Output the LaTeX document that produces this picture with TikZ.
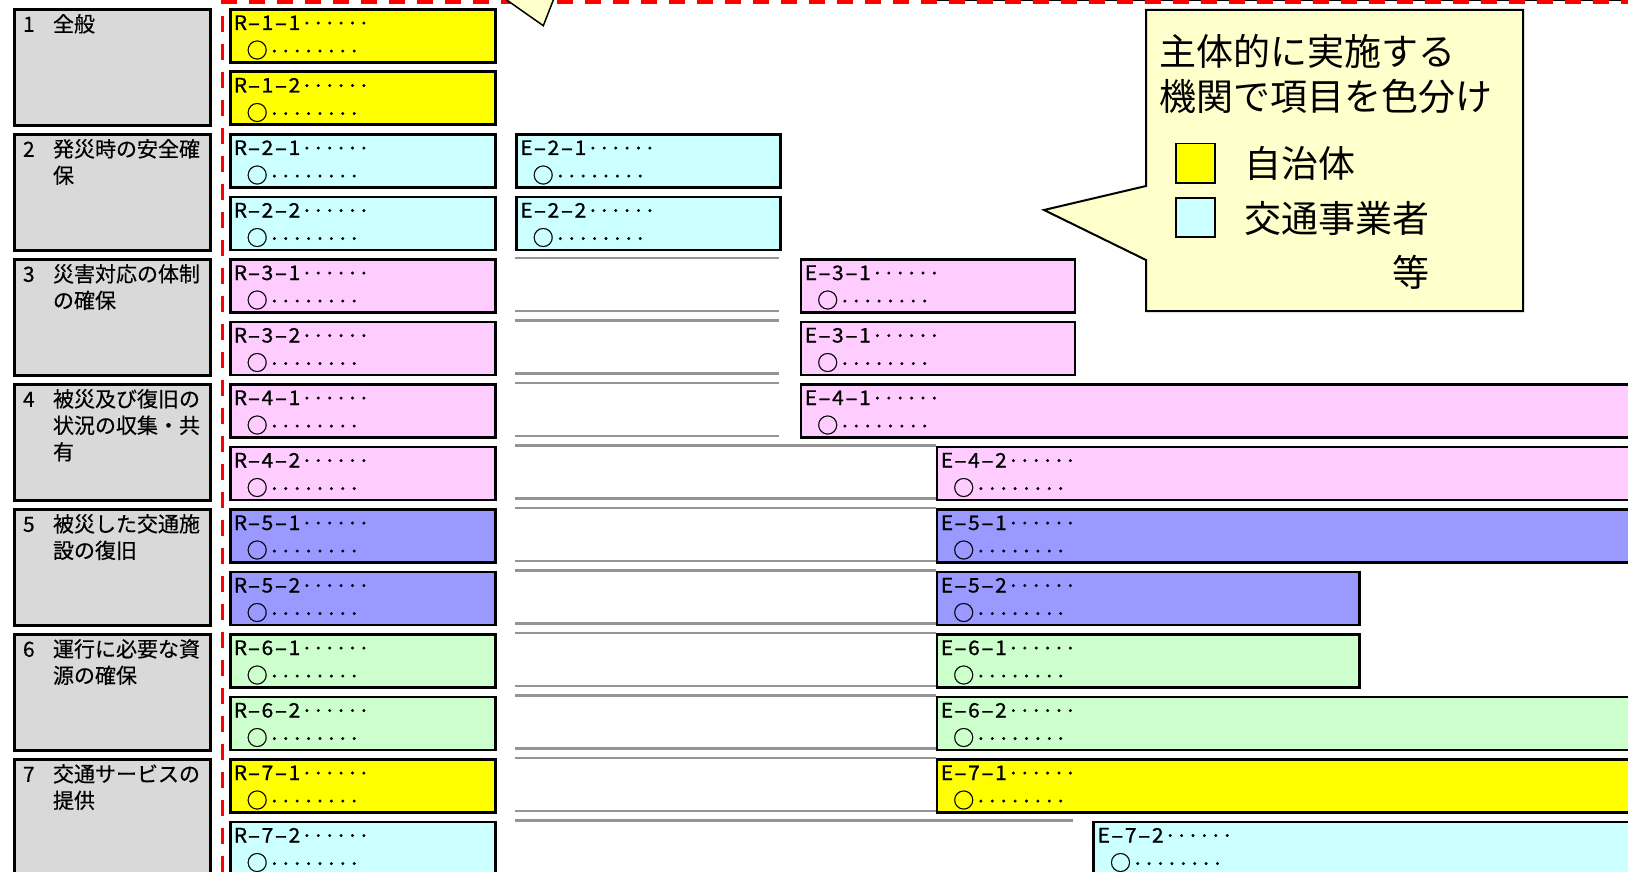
\documentclass[tikz,border=0pt]{standalone}
\usepackage{fontspec}
\usepackage{graphicx}
\setmainfont{Noto Sans CJK JP}
\newfontfamily\boxfont{Noto Sans CJK JP}[FakeBold=0.9]
\newfontfamily\catfont{Noto Sans CJK JP}[FakeBold=0.4]
\newfontfamily\dotfont{Noto Sans CJK JP}[FakeBold=5]
\usetikzlibrary{calc}
\definecolor{cyel}{HTML}{FFFF00}
\definecolor{ccyan}{HTML}{CCFFFF}
\definecolor{cpink}{HTML}{FFCCFF}
\definecolor{cblue}{HTML}{9999FF}
\definecolor{cgreen}{HTML}{CCFFCC}
\definecolor{cgray}{HTML}{D9D9D9}
\definecolor{ccall}{HTML}{FFFFCC}
\definecolor{cred}{HTML}{FF0000}
\newcommand\hcell[1]{\makebox[13.5pt][c]{\scalebox{1.05}[1]{#1}}}
\newcommand\hyph{\makebox[13.5pt][c]{\scalebox{1.9}[1]{-}}}
\newcommand\dotc{\makebox[11.4pt][c]{\raisebox{2.6pt}{\dotfont\fontsize{11.4}{11.4}\selectfont ・}}}
\newcommand\codeline[3]{\hcell{#1}\hyph\hcell{#2}\hyph\hcell{#3}\dotc\dotc\dotc\dotc\dotc\dotc}
\newcommand\itemline{\hspace*{12pt}\makebox[23pt][c]{\scalebox{1.05}{○}}\dotc\dotc\dotc\dotc\dotc\dotc\dotc\dotc}
\tikzset{
 cbox/.style={draw=black, line width=2.8pt, minimum height=53pt, inner sep=0pt, anchor=north west, rectangle},
 gbox/.style={draw=black, line width=2.8pt, fill=cgray, minimum width=196pt, minimum height=116pt, inner sep=0pt, anchor=north west, rectangle},
 lbl/.style={font=\boxfont\fontsize{20}{20}\selectfont, inner sep=0pt, anchor=base west},
 glbl/.style={font=\catfont\fontsize{21}{21}\selectfont, inner sep=0pt, anchor=base west},
 big/.style={font=\fontsize{37}{37}\selectfont, inner sep=0pt, anchor=base west},
 sepline/.style={draw=black!42, line width=2.2pt},
 reddash/.style={draw=cred, line width=3.3pt, dash pattern=on 16pt off 12pt},
}
\begin{document}
\begin{tikzpicture}[x=1pt,y=-1pt]
\useasboundingbox (0,0) rectangle (1628,872);
\clip (0,0) rectangle (1628,872);
\fill[white] (0,0) rectangle (1628,872);

% left category boxes
\foreach \k in {1,...,7}{
  \node[gbox] (g\k) at (13.3,{8+125*(\k-1)}) {};
}
\node[glbl] (g1n) at ($(g1.north west)+(9.5,23.8)$) {1};
\node[glbl] (g1a) at ($(g1.north west)+(39.5,23.8)$) {全般};
\node[glbl] (g2n) at ($(g2.north west)+(9.5,23.8)$) {2};
\node[glbl] (g2a) at ($(g2.north west)+(39.5,23.8)$) {発災時の安全確};
\node[glbl] (g2b) at ($(g2.north west)+(39.5,50.3)$) {保};
\node[glbl] (g3n) at ($(g3.north west)+(9.5,23.8)$) {3};
\node[glbl] (g3a) at ($(g3.north west)+(39.5,23.8)$) {災害対応の体制};
\node[glbl] (g3b) at ($(g3.north west)+(39.5,50.3)$) {の確保};
\node[glbl] (g4n) at ($(g4.north west)+(9.5,23.8)$) {4};
\node[glbl] (g4a) at ($(g4.north west)+(39.5,23.8)$) {被災及び復旧の};
\node[glbl] (g4b) at ($(g4.north west)+(39.5,50.3)$) {状況の収集・共};
\node[glbl] (g4c) at ($(g4.north west)+(39.5,76.8)$) {有};
\node[glbl] (g5n) at ($(g5.north west)+(9.5,23.8)$) {5};
\node[glbl] (g5a) at ($(g5.north west)+(39.5,23.8)$) {被災した交通施};
\node[glbl] (g5b) at ($(g5.north west)+(39.5,50.3)$) {設の復旧};
\node[glbl] (g6n) at ($(g6.north west)+(9.5,23.8)$) {6};
\node[glbl] (g6a) at ($(g6.north west)+(39.5,23.8)$) {運行に必要な資};
\node[glbl] (g6b) at ($(g6.north west)+(39.5,50.3)$) {源の確保};
\node[glbl] (g7n) at ($(g7.north west)+(9.5,23.8)$) {7};
\node[glbl] (g7a) at ($(g7.north west)+(39.5,23.8)$) {交通サービスの};
\node[glbl] (g7b) at ($(g7.north west)+(39.5,50.3)$) {提供};

% grey separator lines of empty cells
\foreach \s/\xe in {5/779,6/779,7/779,8/935.5,9/935.5,10/935.5,11/935.5,12/935.5,13/935.5}{
  \draw[sepline] (515,{8+62.5*(\s-1)}) -- (\xe,{8+62.5*(\s-1)});
  \draw[sepline] (515,{61+62.5*(\s-1)}) -- (\xe,{61+62.5*(\s-1)});
}
\draw[sepline] (515,820.5) -- (1073,820.5);

% item boxes
\foreach \nm/\s/\x/\w/\c/\l/\k/\j in {
  r11/1/229/265/cyel/R/1/1, r12/2/229/265/cyel/R/1/2,
  r21/3/229/265/ccyan/R/2/1, r22/4/229/265/ccyan/R/2/2,
  r31/5/229/265/cpink/R/3/1, r32/6/229/265/cpink/R/3/2,
  r41/7/229/265/cpink/R/4/1, r42/8/229/265/cpink/R/4/2,
  r51/9/229/265/cblue/R/5/1, r52/10/229/265/cblue/R/5/2,
  r61/11/229/265/cgreen/R/6/1, r62/12/229/265/cgreen/R/6/2,
  r71/13/229/265/cyel/R/7/1, r72/14/229/265/ccyan/R/7/2,
  e21/3/515/264/ccyan/E/2/1, e22/4/515/264/ccyan/E/2/2,
  e31/5/799.5/274/cpink/E/3/1, e32/6/799.5/274/cpink/E/3/1,
  e41/7/799.5/860/cpink/E/4/1, e42/8/935.5/720/cpink/E/4/2,
  e51/9/935.5/720/cblue/E/5/1, e52/10/935.5/422.5/cblue/E/5/2,
  e61/11/935.5/422.5/cgreen/E/6/1, e62/12/935.5/720/cgreen/E/6/2,
  e71/13/935.5/720/cyel/E/7/1, e72/14/1092.3/600/ccyan/E/7/2}{
  \node[cbox, fill=\c, minimum width=\w pt] (\nm) at (\x,{8+62.5*(\s-1)}) {};
  \node[lbl] (\nm t1) at ($(\nm.north west)+(4.5,22)$) {\codeline{\l}{\k}{\j}};
  \node[lbl] (\nm t2) at ($(\nm.north west)+(4.5,50)$) {\itemline};
}

% dashed red frame
\draw[black, line width=1.5pt] (935,0.6) -- (1640,0.6);
\draw[reddash] (222.5,900) -- (222.5,2) -- (1660,2);

% pointer of a callout above the picture
\coordinate (ptip) at (543.3,25.7);
\filldraw[fill=ccall, draw=black, line width=1.5pt, line join=miter] (499.6,-5) -- (ptip) -- (555.3,-5);

% callout legend
\coordinate (ctip) at (1044,210);
\filldraw[fill=ccall, draw=black, line width=2pt, line join=miter] (1146,10) -- (1523,10) -- (1523,311) -- (1146,311) -- (1146,260) -- (ctip) -- (1146,186) -- cycle;
\node[big] (c1) at (1159,66) {主体的に実施する};
\node[big] (c2) at (1159,111) {機関で項目を色分け};
\node[draw=black, line width=1.5pt, fill=cyel, minimum size=39pt, inner sep=0pt, anchor=north west] (lgy) at (1175,143) {};
\node[draw=black, line width=1.5pt, fill=ccyan, minimum size=39pt, inner sep=0pt, anchor=north west] (lgc) at (1175,197) {};
\node[big] (l1) at (1244,177) {自治体};
\node[big] (l2) at (1244,232) {交通事業者};
\node[big] (l3) at (1392,286) {等};
\end{tikzpicture}
\end{document}
